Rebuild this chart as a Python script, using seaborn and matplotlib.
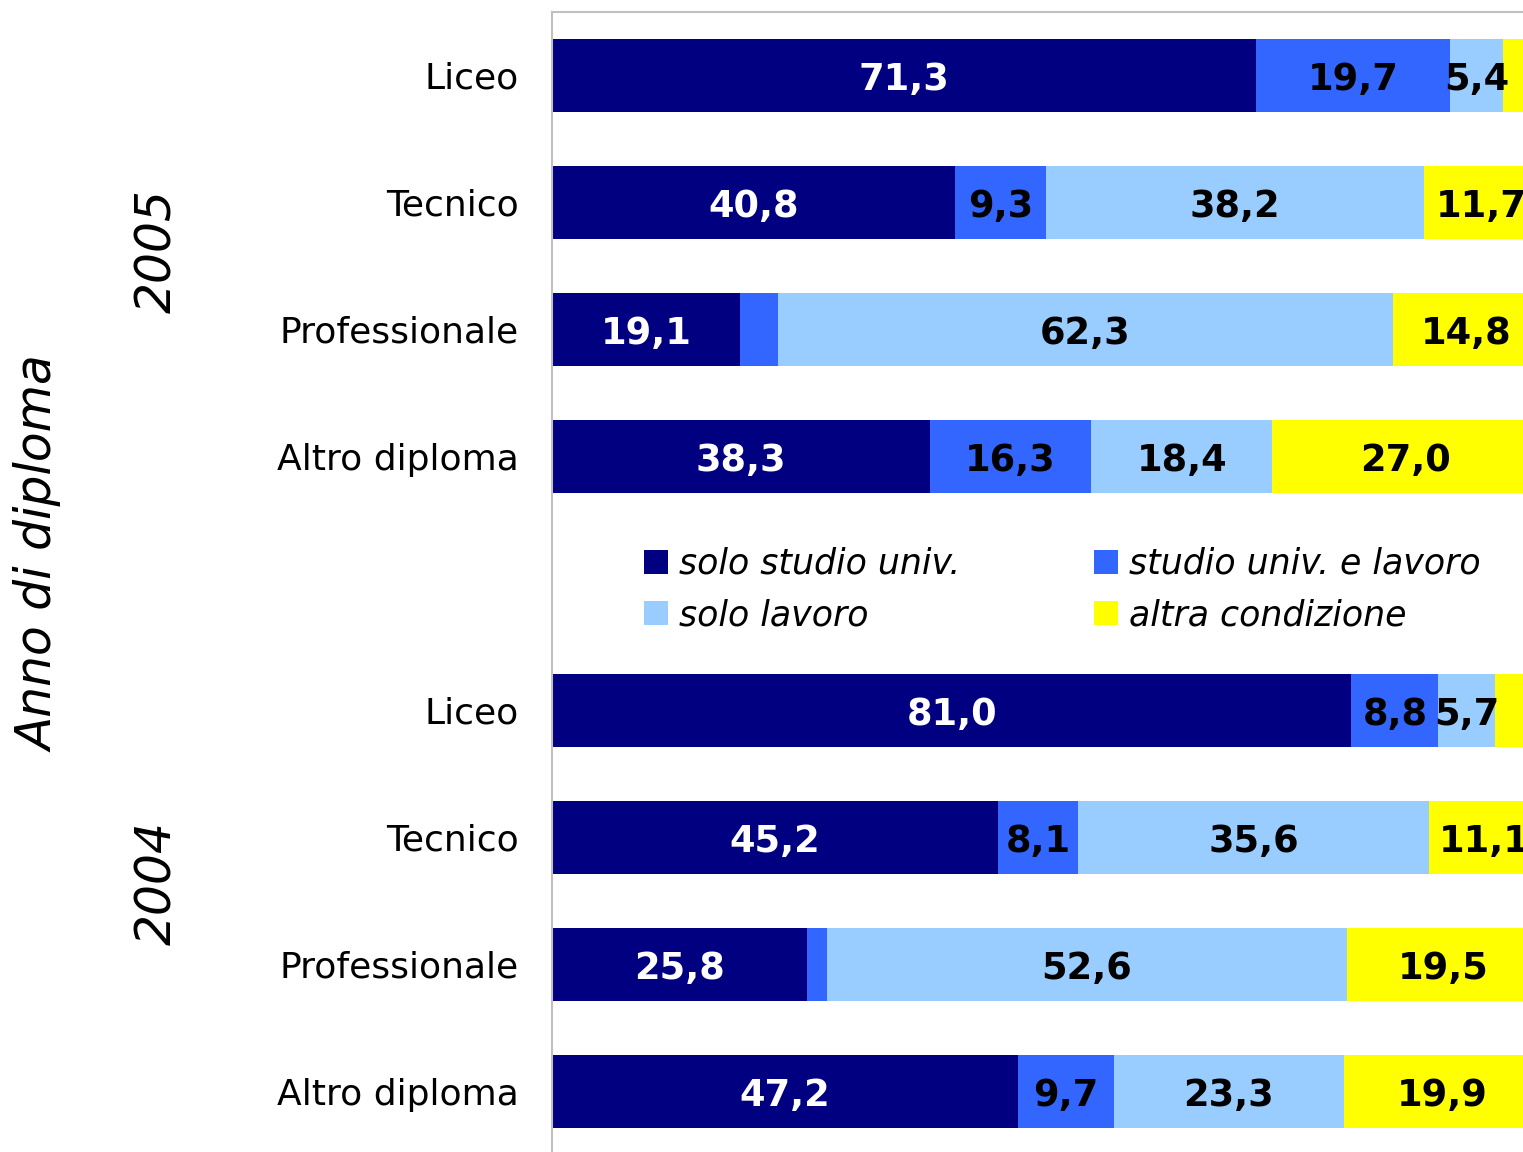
import matplotlib.pyplot as plt
import matplotlib.transforms as mtransforms
import pandas as pd
import seaborn as sns
from matplotlib.patches import Patch

# values (percent); the small unlabelled pieces are the remainders to 100
tipi = ["Liceo", "Tecnico", "Professionale", "Altro diploma"]
anni = ["2005", "2004"]
serie = ["solo studio univ.", "studio univ. e lavoro", "solo lavoro", "altra condizione"]
colori = ["#000080", "#3366FF", "#99CCFF", "#FFFF00"]

solo_studio_2005 = [71.3, 40.8, 19.1, 38.3]
studio_lavoro_2005 = [19.7, 9.3, 3.8, 16.3]
solo_lavoro_2005 = [5.4, 38.2, 62.3, 18.4]
altra_2005 = [3.6, 11.7, 14.8, 27.0]

solo_studio_2004 = [81.0, 45.2, 25.8, 47.2]
studio_lavoro_2004 = [8.8, 8.1, 2.1, 9.7]
solo_lavoro_2004 = [5.7, 35.6, 52.6, 23.3]
altra_2004 = [4.5, 11.1, 19.5, 19.9]

valori = {
    "2005": [solo_studio_2005, studio_lavoro_2005, solo_lavoro_2005, altra_2005],
    "2004": [solo_studio_2004, studio_lavoro_2004, solo_lavoro_2004, altra_2004],
}

# long table, one row per bar; key keeps the two years apart
righe = []
for anno in anni:
    for i, t in enumerate(tipi):
        r = {"key": anno + "|" + t, "tipo": t}
        cum = 0
        for k, s in enumerate(serie):
            v = valori[anno][k][i]
            r[s] = v
            cum += v
            r["cum%d" % k] = cum
        righe.append(r)
df = pd.DataFrame(righe)

# empty slot between the years is where the legend goes
ordine = ["2005|" + t for t in tipi] + ["vuoto"] + ["2004|" + t for t in tipi]

sns.set_style("white")
plt.rcParams["font.family"] = ["DejaVu Sans"]
plt.rcParams["text.color"] = "black"
plt.rcParams["ytick.color"] = "black"

fig = plt.figure(figsize=(15.23, 11.52), dpi=100)
ax = fig.add_axes([0.3624, -0.0026, 0.6481, 0.9922])

# stacked bars: draw cumulative totals from the back to the front
for k in range(3, -1, -1):
    sns.barplot(data=df, x="cum%d" % k, y="key", order=ordine, orient="h",
                color=colori[k], saturation=1, width=0.57, errorbar=None,
                linewidth=0, ax=ax)

ax.set_xlim(0, 100)
ax.set_ylim(8.5, -0.5)

# value labels inside each piece
pos = {key: n for n, key in enumerate(ordine)}
for _, r in df.iterrows():
    y = pos[r["key"]]
    for k, s in enumerate(serie):
        v = r[s]
        if v < 5:
            continue
        xc = r["cum%d" % k] - v / 2
        ax.text(xc, y, ("%.1f" % v).replace(".", ","), ha="center", va="center_baseline",
                fontsize=26.5, fontweight="bold",
                color="white" if k == 0 else "black")

ax.set_yticks(range(len(ordine)))
ax.set_yticklabels([o.split("|")[1] if "|" in o else "" for o in ordine], fontsize=26,
                   color="black")
ax.tick_params(axis="y", length=0, pad=24)
ax.set_xticks([])
ax.set_xlabel("")
ax.set_ylabel("")

for lato in ["left", "top"]:
    ax.spines[lato].set_color("#c0c0c0")
    ax.spines[lato].set_linewidth(1.5)
for lato in ["right", "bottom"]:
    ax.spines[lato].set_visible(False)

# year labels beside each group
tr = mtransforms.blended_transform_factory(fig.transFigure, ax.transData)
ax.text(157 / 1523, 1.38, "2005", transform=tr, rotation=90, ha="center", va="center",
        fontsize=35, style="italic", color="black")
ax.text(157 / 1523, 6.36, "2004", transform=tr, rotation=90, ha="center", va="center",
        fontsize=35, style="italic", color="black")
fig.text(40 / 1523, 1 - 554 / 1152, "Anno di diploma", rotation=90, ha="center",
         va="center", fontsize=35, style="italic", color="black")

maniglie = [Patch(facecolor=c, edgecolor="none", label=s) for s, c in zip(serie, colori)]
ax.legend(handles=[maniglie[0], maniglie[2], maniglie[1], maniglie[3]],
          labels=[serie[0], serie[2], serie[1], serie[3]],
          ncol=2, frameon=False, loc="upper left",
          bbox_to_anchor=((644 - 552) / 987, (1155 - 547) / 1143),
          borderaxespad=0, borderpad=0, handlelength=0.7, handleheight=0.7,
          handletextpad=0.3, columnspacing=3.86, labelspacing=0.5,
          prop={"size": 25, "style": "italic"}, labelcolor="black")

fig.savefig("out.png", dpi=100, facecolor="white")
